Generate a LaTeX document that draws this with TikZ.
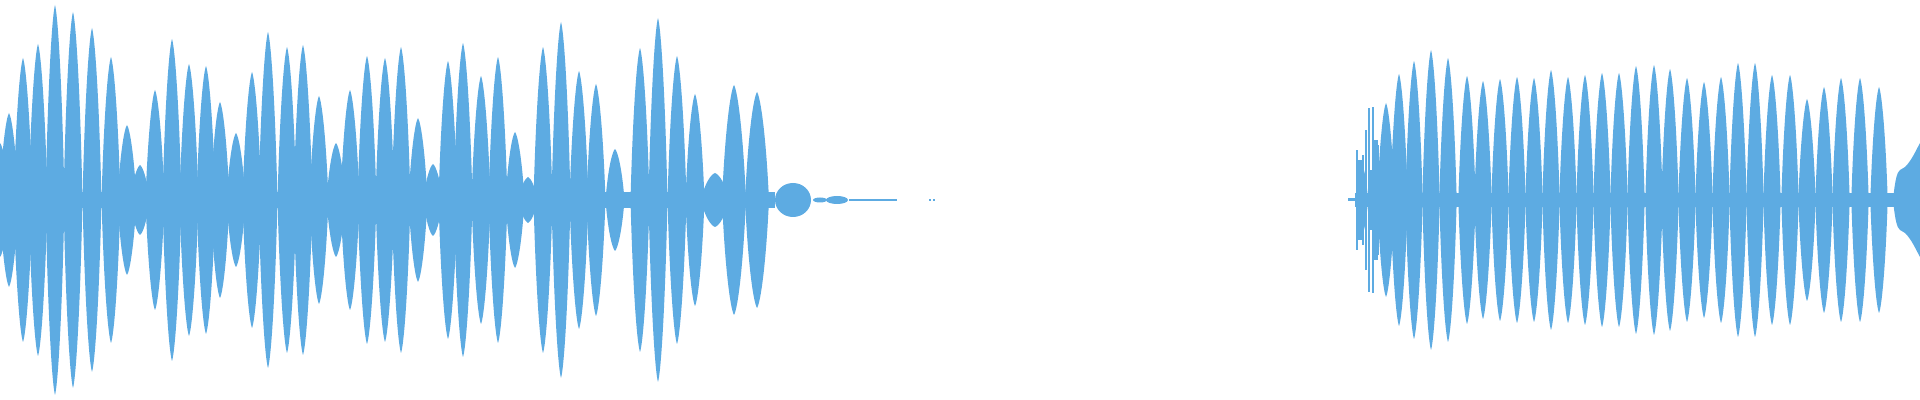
\documentclass[tikz,border=0pt]{standalone}
\definecolor{wave}{RGB}{93,171,226}
\newcommand\wlobe[3]{% x, amp, halfwidth
  \fill[wave] ({#1-#3},200) .. controls ({#1-0.75*#3},{200+0.6*#2}) and ({#1-0.3*#3},{200+0.95*#2}) .. (#1,{200+#2})
   .. controls ({#1+0.3*#3},{200+0.95*#2}) and ({#1+0.75*#3},{200+0.6*#2}) .. ({#1+#3},200)
   .. controls ({#1+0.75*#3},{200-0.6*#2}) and ({#1+0.3*#3},{200-0.95*#2}) .. (#1,{200-#2})
   .. controls ({#1-0.3*#3},{200-0.95*#2}) and ({#1-0.75*#3},{200-0.6*#2}) .. cycle;}
\begin{document}
\begin{tikzpicture}[x=0.5pt,y=0.5pt]
\useasboundingbox (0,0) rectangle (1920,400);
% centre bands
\fill[wave] (0,192) rectangle (775,208);
\fill[wave] (1355,193) rectangle (1895,207);
\fill[wave] (1348,198.5) rectangle (1356,201.5);
% left section
\foreach \p/\a in {0/57,9/87,23/142,38/156,55/195,73/188,92/172,111/143,127/75,140/35,155/110,172/161,189/136,206/134,220/98,236/67,252/128,268/168,287/153,303/155,319/104,336/57,350/110,367/144,385/142,401/153,418/82,433/36,448/139,463/157,481/124,498/143,515/68,528/23,543/153,561/178,579/129,596/116,615/51,640/152,658/182,677/144,695/106}
  {\wlobe{\p}{\a}{9.5}}
\wlobe{715}{27}{14}
\wlobe{734}{115}{12}
\wlobe{757}{108}{12}
\fill[wave] (793,200) ellipse [x radius=18, y radius=17];
\fill[wave] (820,200) ellipse [x radius=7, y radius=2.5];
\fill[wave] (837,200) ellipse [x radius=11, y radius=4];
\fill[wave] (849,199) rectangle (897,201);
\fill[wave] (929,199.3) rectangle (930.5,200.7);
\fill[wave] (933,199.3) rectangle (934.5,200.7);
% right section noise
\foreach \p/\a in {1357/50,1359/40,1361/40,1363/45,1366/70,1369/92,1371/30,1373/93,1375/60,1377/60,1378/55}
  {\fill[wave] ({\p-0.6},{200-\a}) rectangle ({\p+0.6},{200+\a});}
\wlobe{1362}{35}{6}
\wlobe{1375}{38}{6}
% right section lobes
\foreach \p/\a in {1386/97,1399/126,1414/139,1431/150,1448/142,1467/124,1483/119,1500/121,1517/123,1534/122,1551/130,1568/123,1585/125,1602/127,1619/127,1636/134,1654/135,1670/131,1687/122,1704/118,1721/123,1738/137,1755/137,1772/125,1790/125,1807/101,1824/113,1841/122,1860/122,1879/113}
  {\wlobe{\p}{\a}{8.7}}
% right edge blob
\fill[wave] (1893,200) .. controls (1895,220) and (1897,228) .. (1900,230) -- (1905,233) .. controls (1912,240) and (1916,250) .. (1920,257)
  -- (1920,143) .. controls (1916,150) and (1912,160) .. (1905,167) -- (1900,170) .. controls (1897,172) and (1895,180) .. cycle;
\end{tikzpicture}
\end{document}
